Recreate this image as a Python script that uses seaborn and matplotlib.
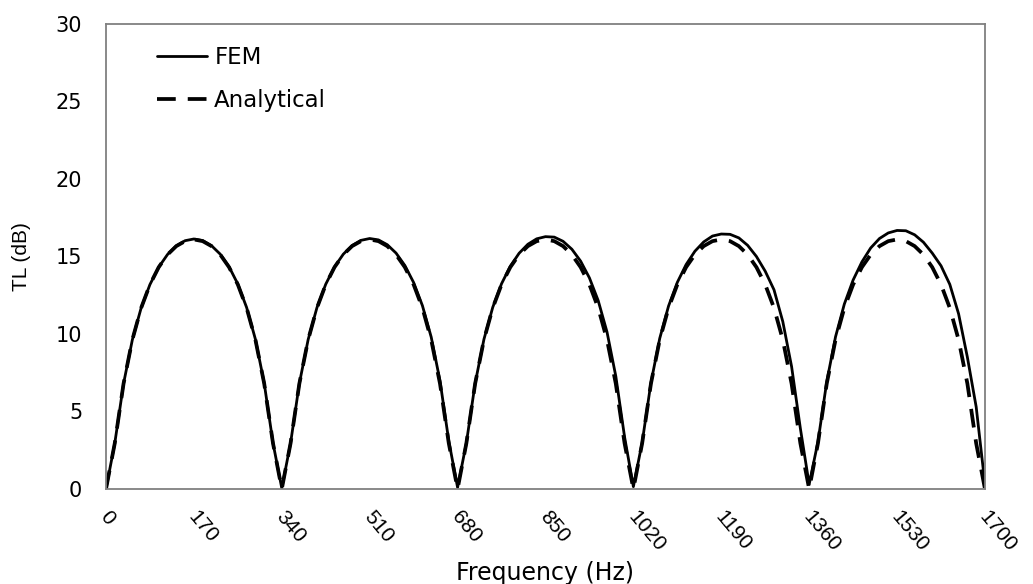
import numpy as np
import pandas as pd
import matplotlib
matplotlib.use("Agg")
import matplotlib.pyplot as plt
import matplotlib.transforms as mtransforms
import seaborn as sns

freq = [0, 17, 34, 51, 68, 85, 102, 119, 136, 153, 170, 187, 204, 221, 238, 255, 272, 289, 306, 323,
        340, 357, 374, 391, 408, 425, 442, 459, 476, 493, 510, 527, 544, 561, 578, 595, 612, 629, 646, 663,
        680, 697, 714, 731, 748, 765, 782, 799, 816, 833, 850, 867, 884, 901, 918, 935, 952, 969, 986, 1003,
        1020, 1037, 1054, 1071, 1088, 1105, 1122, 1139, 1156, 1173, 1190, 1207, 1224, 1241, 1258, 1275, 1292,
        1309, 1326, 1343, 1360, 1377, 1394, 1411, 1428, 1445, 1462, 1479, 1496, 1513, 1530, 1547, 1564, 1581,
        1598, 1615, 1632, 1649, 1666, 1683, 1700]

fem = [0.0, 2.95, 6.80, 9.63, 11.68, 13.19, 14.31, 15.13, 15.69, 16.02, 16.13, 16.03, 15.70, 15.15, 14.34, 13.22, 11.71, 9.66, 6.83, 2.97,
       0.05, 2.96, 6.81, 9.64, 11.70, 13.21, 14.33, 15.15, 15.71, 16.04, 16.16, 16.07, 15.76, 15.22, 14.42, 13.32, 11.83, 9.80, 6.98, 3.10,
       0.10, 2.97, 6.82, 9.66, 11.72, 13.24, 14.37, 15.21, 15.79, 16.14, 16.28, 16.25, 15.98, 15.47, 14.70, 13.62, 12.15, 10.13, 7.28, 3.35,
       0.15, 3.00, 6.86, 9.72, 11.80, 13.33, 14.48, 15.34, 15.94, 16.32, 16.45, 16.43, 16.20, 15.72, 15.00, 14.05, 12.85, 10.80, 7.90, 3.90,
       0.30, 3.05, 6.92, 9.82, 11.93, 13.48, 14.65, 15.55, 16.16, 16.52, 16.68, 16.66, 16.40, 15.92, 15.22, 14.40, 13.20, 11.30, 8.50, 5.30,
       0.30]

analytical = [0.0, 2.95, 6.80, 9.63, 11.68, 13.19, 14.31, 15.12, 15.67, 15.99, 16.10, 15.99, 15.67, 15.12, 14.31, 13.19, 11.68, 9.63, 6.80, 2.95,
              0.0, 2.95, 6.80, 9.63, 11.68, 13.19, 14.31, 15.12, 15.67, 15.99, 16.10, 15.99, 15.67, 15.12, 14.31, 13.19, 11.68, 9.63, 6.80, 2.95,
              0.0, 2.95, 6.80, 9.63, 11.68, 13.19, 14.31, 15.12, 15.67, 15.99, 16.10, 15.99, 15.67, 15.12, 14.31, 13.19, 11.68, 9.63, 6.80, 2.95,
              0.0, 2.95, 6.80, 9.63, 11.68, 13.19, 14.31, 15.12, 15.67, 15.99, 16.10, 15.99, 15.67, 15.12, 14.31, 13.19, 11.68, 9.63, 6.80, 2.95,
              0.0, 2.95, 6.80, 9.63, 11.68, 13.19, 14.31, 15.12, 15.67, 15.99, 16.10, 15.99, 15.67, 15.12, 14.31, 13.19, 11.68, 9.63, 6.80, 2.95,
              0.0]

series_names = ["FEM", "Analytical"]
x_ticks = [0, 170, 340, 510, 680, 850, 1020, 1190, 1360, 1530, 1700]
y_ticks = [0, 5, 10, 15, 20, 25, 30]

df = pd.DataFrame({
    "Frequency": freq * 2,
    "TL": fem + analytical,
    "Series": [series_names[0]] * len(freq) + [series_names[1]] * len(freq),
})

sns.set_theme(style="white")
plt.rcParams["font.family"] = ["DejaVu Sans"]
plt.rcParams["text.color"] = "black"
plt.rcParams["axes.labelcolor"] = "black"
plt.rcParams["xtick.color"] = "black"
plt.rcParams["ytick.color"] = "black"

fig = plt.figure(figsize=(10.33, 5.84), dpi=100)
ax = fig.add_axes([0.1026, 0.1627, 0.8509, 0.7962])

sns.lineplot(data=df, x="Frequency", y="TL", style="Series", hue="Series",
             palette={"FEM": "black", "Analytical": "black"},
             dashes={"FEM": "", "Analytical": (5.0, 3.2)},
             size="Series", sizes={"FEM": 2.0, "Analytical": 2.7},
             estimator=None, sort=False, ax=ax, legend=True)

ax.set_xlim(0, 1700)
ax.set_ylim(0, 30)
ax.set_xticks(x_ticks)
ax.set_yticks(y_ticks)
ax.set_xticklabels([str(t) for t in x_ticks], rotation=-50, ha="left", va="top",
                   rotation_mode="anchor", fontsize=15, family="Liberation Sans")
ax.set_yticklabels([str(t) for t in y_ticks], fontsize=15)
ax.tick_params(axis="both", direction="in", length=6, width=1.2, color="#808080",
               labelcolor="black")
ax.tick_params(axis="y", pad=17)
ax.tick_params(axis="x", pad=13)
shift = mtransforms.ScaledTranslation(0.05, 0, fig.dpi_scale_trans)
for lbl in ax.get_xticklabels():
    lbl.set_transform(lbl.get_transform() + shift)
for s in ax.spines.values():
    s.set_visible(True)
    s.set_color("#808080")
    s.set_linewidth(1.3)

ax.set_xlabel("Frequency (Hz)", fontsize=17, labelpad=4, color="black")
ax.set_ylabel("TL (dB)", fontsize=15, family="Liberation Sans", labelpad=18, color="black")

handles, labels = ax.get_legend_handles_labels()
leg = ax.legend(handles=handles[:2], labels=labels[:2], loc="upper left",
                bbox_to_anchor=(0.058, 0.952), frameon=False, fontsize=16.5,
                borderaxespad=0, borderpad=0,
                handlelength=2.2, handletextpad=0.3, labelspacing=0.85)
for t in leg.get_texts():
    t.set_color("black")

fig.savefig("out.png", dpi=100)
